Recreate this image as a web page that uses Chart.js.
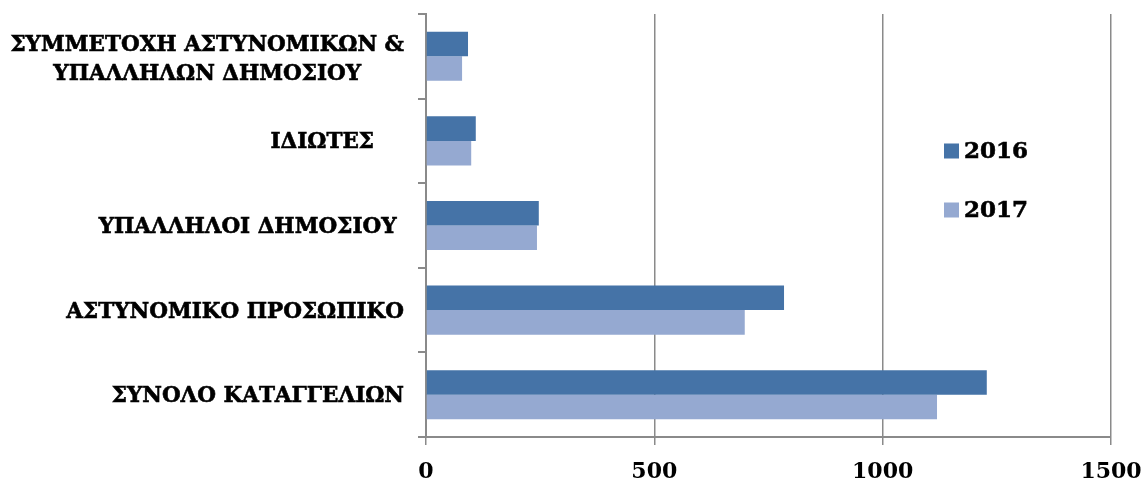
<!DOCTYPE html>
<html><head><meta charset="utf-8">
<script src="https://cdn.jsdelivr.net/npm/chart.js@4.4.1/dist/chart.umd.min.js"></script>
<style>html,body{margin:0;padding:0;background:#fff}#wrap{width:1145px;height:479px}</style>
</head><body><div id="wrap"><canvas id="c" width="1145" height="479"></canvas></div>
<script>
const categories = [
  ["ΣΥΜΜΕΤΟΧΗ ΑΣΤΥΝΟΜΙΚΩΝ &", "ΥΠΑΛΛΗΛΩΝ ΔΗΜΟΣΙΟΥ"],
  "ΙΔΙΩΤΕΣ    ",
  "ΥΠΑΛΛΗΛΟΙ ΔΗΜΟΣΙΟΥ ",
  "ΑΣΤΥΝΟΜΙΚΟ ΠΡΟΣΩΠΙΚΟ",
  "ΣΥΝΟΛΟ ΚΑΤΑΓΓΕΛΙΩΝ"
];
const seriesNames = ["2016", "2017"];
const values2016 = [92, 109, 247, 784, 1228];
const values2017 = [79, 99, 243, 698, 1119];
const xTicks = [0, 500, 1000, 1500];

const FONT = "'DejaVu Serif', serif";
const colors = ["#4573A7", "#95A9D1"];

const customDraw = {
  id: 'customDraw',
  afterDraw(chart) {
    const ctx = chart.ctx;
    const y = chart.scales.y;
    ctx.save();
    ctx.fillStyle = '#000';
    ctx.strokeStyle = '#000';
    ctx.lineWidth = 0.6;
    ctx.font = "bold 21.5px " + FONT;
    ctx.textBaseline = 'middle';
    const right = 404, lh = 29;
    categories.forEach((lab, i) => {
      const cy = y.getPixelForValue(i);
      const lines = Array.isArray(lab) ? lab : [lab];
      const widths = lines.map(l => ctx.measureText(l).width);
      const maxW = Math.max(...widths);
      const center = right - maxW / 2;
      lines.forEach((l, k) => {
        const ly = cy + (k - (lines.length - 1) / 2) * lh + (lines.length > 1 ? 4 : 2);
        if (lines.length === 1) {
          ctx.textAlign = 'right';
          ctx.fillText(l, right, ly); ctx.strokeText(l, right, ly);
        } else {
          ctx.textAlign = 'center';
          ctx.fillText(l, center, ly); ctx.strokeText(l, center, ly);
        }
      });
    });
    // legend
    ctx.font = "bold 23px " + FONT;
    ctx.textAlign = 'left';
    const lx = 944, ly0 = 151, gap = 59;
    chart.data.datasets.forEach((ds, i) => {
      const cy = ly0 + i * gap;
      ctx.fillStyle = ds.backgroundColor;
      ctx.fillRect(lx, cy - 7.5, 15, 15);
      ctx.fillStyle = '#000';
      ctx.fillText(ds.label, lx + 20, cy + 1);
      ctx.strokeText(ds.label, lx + 20, cy + 1);
    });
    ctx.restore();
  }
};

new Chart(document.getElementById('c'), {
  type: 'bar',
  data: {
    labels: categories,
    datasets: [
      { label: seriesNames[0], data: values2016, backgroundColor: colors[0], borderWidth: 0,
        categoryPercentage: 0.58, barPercentage: 1.0 },
      { label: seriesNames[1], data: values2017, backgroundColor: colors[1], borderWidth: 0,
        categoryPercentage: 0.58, barPercentage: 1.0 }
    ]
  },
  options: {
    indexAxis: 'y',
    responsive: false,
    animation: false,
    layout: { padding: { top: 14, right: 34, left: 0, bottom: 0 } },
    plugins: { legend: { display: false }, tooltip: { enabled: false } },
    scales: {
      x: {
        min: 0, max: 1500,
        afterBuildTicks(s) { s.ticks = xTicks.map(v => ({ value: v })); },
        afterFit(s) { s.height = 42; s.paddingLeft = 0; s.paddingRight = 0; },
        border: { display: true, color: '#8a8a8a', width: 2 },
        grid: { color: '#8a8a8a', lineWidth: 1.5, tickLength: 8, drawTicks: true },
        ticks: { color: '#000', font: { family: FONT, size: 22, weight: 'bold' }, padding: 14,
                 callback: (v) => String(v) }
      },
      y: {
        afterFit(s) { s.width = 426; s.paddingTop = 0; s.paddingBottom = 0; },
        border: { display: true, color: '#8a8a8a', width: 2 },
        grid: { display: true, drawOnChartArea: false, color: '#8a8a8a', lineWidth: 2, tickLength: 8, offset: true },
        ticks: { color: 'rgba(0,0,0,0)', font: { family: FONT, size: 19, weight: 'bold' } }
      }
    }
  },
  plugins: [customDraw]
});
</script>
</body></html>
